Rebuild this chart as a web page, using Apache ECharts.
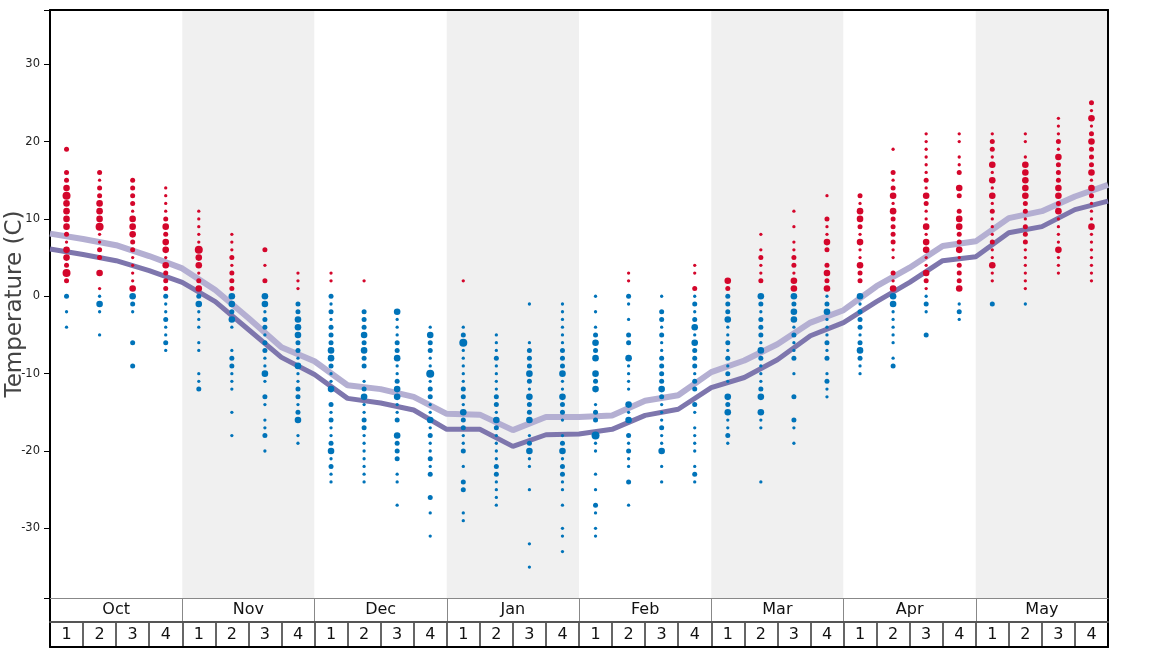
<!DOCTYPE html>
<html>
<head>
<meta charset="utf-8">
<script src="https://cdn.jsdelivr.net/npm/echarts@6/dist/echarts.min.js"></script>
<style>
html,body{margin:0;padding:0;background:#fff;}
#chart{width:1168px;height:648px;}
</style>
</head>
<body>
<div id="chart"></div>
<script>
// ---- categories ----
const months = ['Oct','Nov','Dec','Jan','Feb','Mar','Apr','May'];
const weekNames = ['1','2','3','4'];

// ---- daily-temperature frequency dots: per week, [temperature, frequency level] ----
const octWeeks = [
  [[19,2],[16,2],[15,2],[14,3],[13,4],[12,3],[11,3],[10,3],[9,3],[8,2],[7,1],[6,3],[5,3],[4,2],[3,4],[2,2],[0,2],[-2,1],[-4,1]],
  [[16,2],[15,1],[14,2],[13,2],[12,3],[11,3],[10,3],[9,4],[8,1],[7,1],[6,2],[5,2],[3,3],[1,1],[0,1],[-1,3],[-2,1],[-5,1]],
  [[15,2],[14,2],[13,2],[12,2],[11,1],[10,3],[9,3],[8,3],[7,2],[6,2],[5,1],[4,1],[3,1],[2,1],[1,3],[0,3],[-1,2],[-2,1],[-6,2],[-9,2]],
  [[14,1],[13,1],[12,1],[11,1],[10,2],[9,3],[8,2],[7,3],[6,3],[5,1],[4,3],[3,2],[2,2],[1,2],[0,2],[-1,1],[-2,1],[-3,2],[-4,1],[-5,1],[-6,2],[-7,1]]
];
const novWeeks = [
  [[11,1],[10,1],[9,1],[8,1],[7,1],[6,4],[5,3],[4,3],[3,1],[2,2],[1,3],[0,2],[-1,3],[-2,1],[-3,1],[-4,1],[-6,1],[-7,1],[-10,1],[-11,1],[-12,2]],
  [[8,1],[7,1],[6,1],[5,2],[4,1],[3,2],[2,2],[1,2],[0,3],[-1,3],[-2,2],[-3,3],[-4,1],[-7,1],[-8,2],[-9,2],[-10,1],[-11,1],[-12,1],[-15,1],[-18,1]],
  [[6,2],[4,1],[2,2],[0,3],[-1,3],[-2,1],[-3,2],[-4,2],[-5,1],[-6,2],[-7,2],[-8,1],[-9,1],[-10,3],[-11,1],[-13,2],[-14,1],[-16,1],[-17,1],[-18,2],[-20,1]],
  [[3,1],[2,1],[1,1],[-1,2],[-2,2],[-3,3],[-4,3],[-5,3],[-6,2],[-7,2],[-8,1],[-9,3],[-10,1],[-11,1],[-12,2],[-13,2],[-14,1],[-15,2],[-16,3],[-18,1],[-19,1]]
];
const decWeeks = [
  [[3,1],[2,1],[0,2],[-1,1],[-2,2],[-3,1],[-4,2],[-5,2],[-6,2],[-7,3],[-8,3],[-9,2],[-10,1],[-11,1],[-12,3],[-14,2],[-15,1],[-16,2],[-17,1],[-18,1],[-19,2],[-20,3],[-21,1],[-22,2],[-23,1],[-24,1]],
  [[2,1],[-2,2],[-3,2],[-4,2],[-5,3],[-6,2],[-7,3],[-8,2],[-9,2],[-11,1],[-12,2],[-13,3],[-14,1],[-15,1],[-16,2],[-17,2],[-18,1],[-19,1],[-20,1],[-21,1],[-22,1],[-23,1],[-24,1]],
  [[-2,3],[-3,1],[-4,1],[-5,1],[-6,2],[-7,2],[-8,3],[-9,1],[-10,1],[-11,2],[-12,3],[-13,3],[-14,1],[-15,1],[-16,2],[-18,3],[-19,2],[-20,2],[-21,2],[-23,1],[-24,1],[-27,1]],
  [[-4,1],[-5,3],[-6,2],[-7,2],[-8,1],[-9,1],[-10,4],[-11,1],[-12,2],[-13,2],[-14,1],[-15,1],[-16,3],[-17,1],[-18,2],[-19,1],[-20,1],[-21,2],[-22,1],[-23,2],[-26,2],[-28,1],[-31,1]]
];
const janWeeks = [
  [[2,1],[-4,1],[-5,2],[-6,4],[-7,1],[-8,1],[-9,1],[-10,1],[-11,1],[-12,2],[-13,2],[-14,1],[-15,3],[-16,2],[-17,2],[-18,1],[-19,1],[-20,2],[-22,1],[-24,2],[-25,2],[-28,1],[-29,1]],
  [[-5,1],[-6,1],[-7,1],[-8,2],[-9,1],[-10,1],[-11,1],[-12,1],[-13,2],[-14,2],[-15,1],[-16,3],[-17,2],[-18,1],[-19,1],[-20,1],[-21,1],[-22,2],[-23,2],[-24,1],[-25,1],[-26,1],[-27,1]],
  [[-1,1],[-6,1],[-7,2],[-8,2],[-9,2],[-10,3],[-11,2],[-12,1],[-13,3],[-14,2],[-15,2],[-16,3],[-18,1],[-19,2],[-20,3],[-21,1],[-22,1],[-25,1],[-32,1],[-35,1]],
  [[-1,1],[-2,1],[-3,1],[-4,1],[-5,1],[-6,1],[-7,2],[-8,2],[-9,2],[-10,3],[-11,1],[-12,1],[-13,3],[-14,2],[-15,2],[-16,1],[-18,1],[-19,2],[-20,3],[-21,1],[-22,2],[-23,2],[-24,1],[-25,1],[-27,1],[-30,1],[-31,1],[-33,1]]
];
const febWeeks = [
  [[0,1],[-2,1],[-4,1],[-5,2],[-6,3],[-7,2],[-8,3],[-10,3],[-11,2],[-12,3],[-14,1],[-15,2],[-16,2],[-18,4],[-19,1],[-20,1],[-23,1],[-25,1],[-27,2],[-28,1],[-30,1],[-31,1]],
  [[3,1],[2,1],[0,2],[-1,1],[-3,1],[-5,2],[-6,2],[-8,3],[-9,1],[-10,1],[-11,1],[-12,1],[-14,3],[-15,1],[-16,3],[-18,2],[-19,1],[-20,2],[-21,1],[-22,1],[-24,2],[-27,1]],
  [[0,1],[-2,2],[-3,2],[-4,1],[-5,2],[-6,1],[-7,1],[-8,2],[-9,2],[-10,2],[-11,2],[-12,3],[-13,2],[-14,1],[-15,1],[-16,1],[-17,2],[-18,1],[-19,1],[-20,3],[-22,1],[-24,1]],
  [[4,1],[3,1],[1,2],[0,1],[-1,2],[-2,1],[-3,2],[-4,3],[-5,1],[-6,3],[-7,2],[-8,2],[-9,2],[-10,1],[-11,2],[-12,2],[-14,2],[-15,1],[-17,1],[-18,1],[-19,1],[-20,1],[-22,1],[-23,2],[-24,1]]
];
const marWeeks = [
  [[2,3],[1,2],[0,2],[-1,2],[-2,2],[-3,3],[-4,1],[-5,1],[-6,2],[-7,1],[-8,2],[-9,1],[-10,2],[-11,1],[-13,3],[-14,2],[-15,3],[-16,1],[-17,1],[-18,2],[-19,1]],
  [[8,1],[6,1],[5,2],[4,1],[3,1],[2,2],[0,3],[-1,2],[-2,1],[-3,2],[-4,2],[-5,2],[-6,1],[-7,3],[-8,2],[-9,1],[-10,1],[-11,1],[-12,2],[-13,3],[-15,3],[-16,1],[-17,1],[-24,1]],
  [[11,1],[9,1],[7,1],[6,1],[5,2],[4,2],[3,1],[2,3],[1,3],[0,3],[-1,2],[-2,3],[-3,3],[-4,1],[-5,2],[-6,1],[-7,1],[-8,2],[-10,1],[-13,2],[-16,2],[-17,1],[-19,1]],
  [[13,1],[10,2],[9,1],[8,1],[7,3],[6,2],[4,2],[3,3],[2,2],[1,3],[0,1],[-1,2],[-2,3],[-3,1],[-4,1],[-5,1],[-6,2],[-7,1],[-8,2],[-10,1],[-11,2],[-12,1],[-13,1]]
];
const aprWeeks = [
  [[13,2],[12,1],[11,3],[10,3],[9,2],[8,1],[7,3],[6,1],[5,1],[4,3],[3,2],[2,2],[0,3],[-1,1],[-2,2],[-3,2],[-4,2],[-5,1],[-6,2],[-7,3],[-8,2],[-9,1],[-10,1]],
  [[19,1],[16,2],[15,1],[14,2],[13,3],[12,1],[11,3],[10,2],[9,2],[8,2],[7,2],[6,1],[5,1],[3,2],[2,1],[1,3],[0,3],[-1,3],[-2,1],[-3,1],[-4,1],[-5,1],[-6,1],[-8,1],[-9,2]],
  [[21,1],[20,1],[19,1],[18,1],[17,1],[16,1],[15,2],[14,1],[13,3],[12,2],[11,1],[10,1],[9,3],[8,1],[7,3],[6,3],[5,1],[4,1],[3,3],[2,2],[1,1],[0,1],[-1,2],[-2,1],[-5,2]],
  [[21,1],[20,1],[18,1],[17,1],[16,2],[14,3],[13,2],[11,2],[10,3],[9,3],[8,2],[7,2],[6,3],[5,1],[4,2],[3,2],[2,2],[1,3],[-1,1],[-2,2],[-3,1]]
];
const mayWeeks = [
  [[21,1],[20,2],[19,2],[18,1],[17,3],[16,1],[15,3],[14,1],[13,3],[12,1],[11,2],[10,1],[9,1],[8,1],[7,2],[6,1],[5,1],[4,3],[3,1],[2,1],[-1,2]],
  [[21,1],[20,1],[18,1],[17,3],[16,3],[15,3],[14,3],[13,3],[12,2],[11,2],[10,1],[9,2],[8,2],[7,2],[6,1],[5,1],[4,1],[3,1],[2,1],[1,1],[-1,1]],
  [[23,1],[22,1],[21,1],[20,2],[19,1],[18,3],[17,2],[16,2],[15,2],[14,3],[13,3],[12,2],[11,3],[10,1],[9,1],[8,1],[7,1],[6,3],[5,1],[4,1],[3,1]],
  [[25,2],[24,1],[23,3],[22,1],[21,2],[20,3],[19,2],[18,2],[17,2],[16,3],[15,1],[14,3],[13,2],[12,1],[11,1],[10,1],[9,3],[8,1],[7,1],[6,1],[5,1],[4,1],[3,1],[2,1]]
];

// ---- average lines (values at week boundaries, 33 points) ----
const upperLine = [8.1,7.4,6.6,5.2,3.6,0.8,-2.8,-6.6,-8.4,-11.5,-12.0,-13.0,-15.2,-15.3,-17.3,-15.6,-15.6,-15.4,-13.5,-12.8,-9.8,-8.3,-6.2,-3.4,-1.8,1.3,3.7,6.5,7.1,10.1,11.0,12.9,14.4];
const lowerLine = [6.1,5.4,4.6,3.3,1.8,-0.7,-4.3,-7.9,-10.1,-13.2,-13.8,-14.7,-17.2,-17.2,-19.4,-17.9,-17.8,-17.2,-15.4,-14.6,-11.8,-10.5,-8.2,-5.1,-3.4,-0.7,1.8,4.6,5.1,8.2,9.0,11.2,12.3];

// ---- axis ----
const yMin = -39, yMax = 37;

// ---- build ----
const allWeeks = [].concat(octWeeks, novWeeks, decWeeks, janWeeks, febWeeks, marWeeks, aprWeeks, mayWeeks);
const dotData = [];
allWeeks.forEach(function (wk, i) {
  wk.forEach(function (p) { dotData.push([i + 0.5, p[0], p[1]]); });
});
const weekCats = [];
months.forEach(function () { weekNames.forEach(function (w) { weekCats.push(w); }); });
const sizeMap = {1: 3.3, 2: 5, 3: 6.6, 4: 8};
const RED = '#d4062b', BLUE = '#0073b9';

const L = 50, W = 1058;
const chart = echarts.init(document.getElementById('chart'), null, {renderer: 'canvas'});
const thinBorder = function (gi, pos) {
  return {gridIndex: gi, type: 'value', position: pos, min: 0, max: 1,
    axisLine: {show: true, onZero: false, lineStyle: {color: '#000', width: 2}},
    axisTick: {show: false}, axisLabel: {show: false}, splitLine: {show: false}};
};
chart.setOption({
  animation: false,
  backgroundColor: '#fff',
  textStyle: {fontFamily: 'DejaVu Sans'},
  grid: [
    {left: L, top: 10, width: W, height: 588, containLabel: false, outerBoundsMode: 'none'},
    {left: L, top: 598, width: W, height: 24, containLabel: false, outerBoundsMode: 'none'},
    {left: L, top: 622, width: W, height: 25, containLabel: false, outerBoundsMode: 'none'}
  ],
  xAxis: [
    {gridIndex: 0, type: 'value', min: 0, max: 32, position: 'bottom',
      axisLine: {show: true, onZero: false, lineStyle: {color: '#888', width: 1}},
      axisTick: {show: false}, axisLabel: {show: false}, splitLine: {show: false}},
    {gridIndex: 0, type: 'category', data: months, position: 'top', boundaryGap: true,
      axisLine: {show: true, onZero: false, lineStyle: {color: '#000', width: 2}},
      axisTick: {show: false}, axisLabel: {show: false}, splitLine: {show: false},
      splitArea: {show: true, interval: 0, areaStyle: {color: ['#ffffff', '#f0f0f0']}}},
    {gridIndex: 1, type: 'category', data: months, position: 'bottom', boundaryGap: true,
      axisLine: {show: true, onZero: false, lineStyle: {color: '#555', width: 2}},
      axisTick: {show: false},
      axisLabel: {show: true, inside: true, interval: 0, margin: 4, fontSize: 16, color: '#111'},
      splitLine: {show: true, interval: 0, lineStyle: {color: '#888', width: 1}}},
    {gridIndex: 2, type: 'category', data: weekCats, position: 'bottom', boundaryGap: true,
      axisLine: {show: true, onZero: false, lineStyle: {color: '#000', width: 2}},
      axisTick: {show: false},
      axisLabel: {show: true, inside: true, interval: 0, margin: 4, fontSize: 16, color: '#111'},
      splitLine: {show: true, interval: 0, lineStyle: {color: '#333', width: 1.5}}}
  ],
  yAxis: [
    {gridIndex: 0, type: 'value', min: yMin, max: yMax, splitNumber: 8, position: 'left',
      name: 'Temperature (C)', nameLocation: 'middle', nameGap: 23, nameMoveOverlap: false,
      nameTextStyle: {fontSize: 23, color: '#444'},
      axisLine: {show: true, onZero: false, lineStyle: {color: '#000', width: 2}},
      axisTick: {show: true, length: 6, lineStyle: {color: '#000', width: 1}},
      axisLabel: {show: true, margin: 10, fontSize: 11.5, color: '#222',
        formatter: function (v) { return (Math.round(v) % 10 === 0) ? String(v) : ''; }},
      splitLine: {show: false}},
    {gridIndex: 0, type: 'value', min: yMin, max: yMax, position: 'right',
      axisLine: {show: true, onZero: false, lineStyle: {color: '#000', width: 2}},
      axisTick: {show: false}, axisLabel: {show: false}, splitLine: {show: false}},
    thinBorder(1, 'left'), thinBorder(1, 'right'),
    thinBorder(2, 'left'), thinBorder(2, 'right')
  ],
  series: [
    {type: 'line', xAxisIndex: 0, yAxisIndex: 0, z: 2,
      data: upperLine.map(function (v, k) { return [k, v]; }),
      showSymbol: false, symbol: 'none', lineStyle: {color: '#b4afd2', width: 6}},
    {type: 'line', xAxisIndex: 0, yAxisIndex: 0, z: 3,
      data: lowerLine.map(function (v, k) { return [k, v]; }),
      showSymbol: false, symbol: 'none', lineStyle: {color: '#7e76ad', width: 5}},
    {type: 'scatter', xAxisIndex: 0, yAxisIndex: 0, z: 4,
      data: dotData,
      symbolSize: function (v) { return sizeMap[v[2]]; },
      itemStyle: {color: function (p) { return p.value[1] > 0 ? RED : BLUE; }, opacity: 1}}
  ]
});
</script>
</body>
</html>
